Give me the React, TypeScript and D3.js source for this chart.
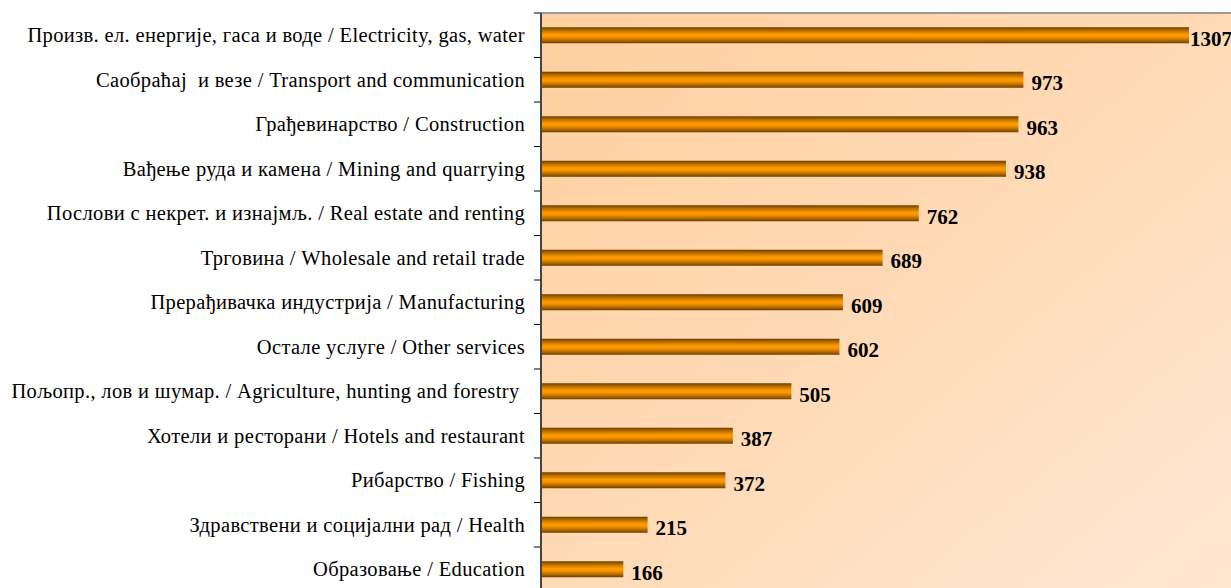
import React from "react";
import * as d3 from "d3";

const categories = [
  "Произв. ел. енергије, гаса и воде / Electricity, gas, water",
  "Саобраћај  и везе / Transport and communication",
  "Грађевинарство / Construction",
  "Вађење руда и камена / Mining and quarrying",
  "Послови с некрет. и изнајмљ. / Real estate and renting",
  "Трговина / Wholesale and retail trade",
  "Прерађивачка индустрија / Manufacturing",
  "Остале услуге / Other services",
  "Пољопр., лов и шумар. / Agriculture, hunting and forestry ",
  "Хотели и ресторани / Hotels and restaurant",
  "Рибарство / Fishing",
  "Здравствени и социјални рад / Health",
  "Образовање / Education",
];
const values = [1307, 973, 963, 938, 762, 689, 609, 602, 505, 387, 372, 215, 166];

export default function App() {
  const W = 1231, H = 588;
  const x0 = 541, top = 13;
  const step = 44.5;
  const x = d3.scaleLinear().domain([0, 1307]).range([x0, 1189]);
  const y = d3.scaleBand<string>().domain(categories).range([top, top + step * categories.length]).paddingInner(0.64).paddingOuter(0.32);
  const ticks = d3.range(categories.length + 1).map((i) => top + i * step);
  return (
    <svg width={W} height={H} style={{ position: "absolute", left: 0, top: 0, fontFamily: "'Liberation Serif', 'Times New Roman', serif" }}>
      <defs>
        <linearGradient id="bg" x1="0" y1="0" x2="1" y2="1">
          <stop offset="0" stopColor="#FFCF9F" />
          <stop offset="0.5" stopColor="#FFDAB6" />
          <stop offset="1" stopColor="#FFE7D2" />
        </linearGradient>
        <linearGradient id="bar" x1="0" y1="0" x2="0" y2="1">
          <stop offset="0" stopColor="#6B3E00" />
          <stop offset="0.2" stopColor="#B86E00" />
          <stop offset="0.45" stopColor="#FF9A00" />
          <stop offset="0.6" stopColor="#F99400" />
          <stop offset="0.85" stopColor="#A86400" />
          <stop offset="1" stopColor="#6B3E00" />
        </linearGradient>
      </defs>
      <rect x={0} y={0} width={W} height={H} fill="#fff" />
      <rect x={x0} y={top} width={W - x0} height={H - top} fill="url(#bg)" />
      <line x1={x0} x2={W} y1={top} y2={top} stroke="#9a9a9a" strokeWidth={2} />
      {categories.map((c, i) => {
        const by = y(c)!;
        const bh = y.bandwidth();
        return (
          <g key={c}>
            <rect x={x(0)} y={by} width={x(values[i]) - x(0)} height={bh} fill="url(#bar)" />
            <text x={525} y={by + bh / 2} dy="0.33em" textAnchor="end" fontSize={20.5} letterSpacing={0.35} fill="#000" style={{ whiteSpace: "pre" }}>
              {c}
            </text>
            <text x={x(values[i]) + (i === 0 ? 1 : 8)} y={by + bh / 2 + 3} dy="0.35em" textAnchor="start" fontSize={21} fontWeight="bold" fill="#000">
              {values[i]}
            </text>
          </g>
        );
      })}
      {ticks.map((t, i) => (
        <line key={i} x1={534} x2={x0} y1={t} y2={t} stroke="#000" strokeWidth={1} />
      ))}
      <line x1={x0} x2={x0} y1={top} y2={H} stroke="#444" strokeWidth={2} />
    </svg>
  );
}
